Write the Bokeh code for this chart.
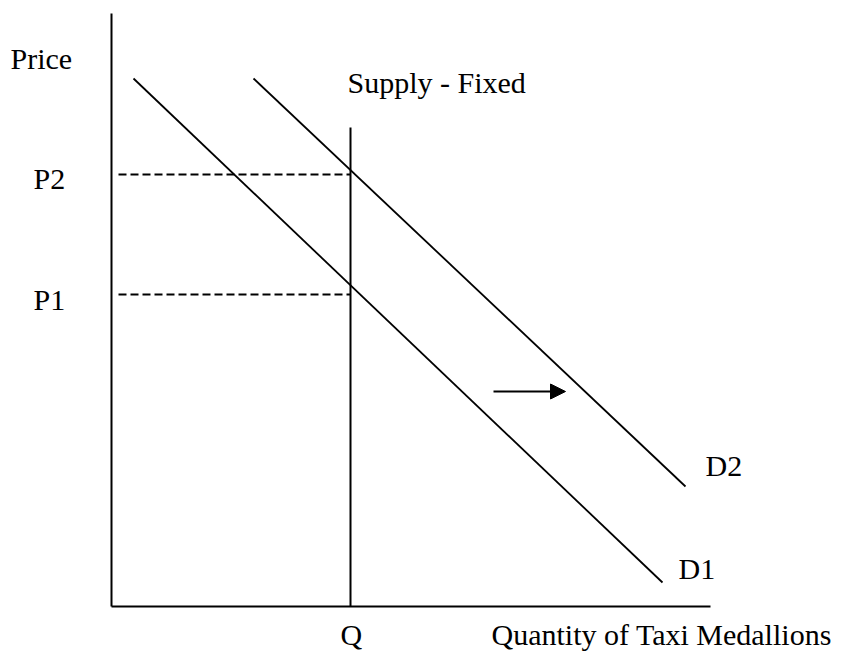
from bokeh.plotting import figure
from bokeh.models import Range1d, Arrow, NormalHead, ColumnDataSource
from bokeh.core.properties import value
from bokeh.embed import file_html
from bokeh.resources import INLINE

# Diagram values (quantity units on x, price units on y; origin at axis corner)
axis_top = 593          # height of the price axis
axis_right = 599        # length of the quantity axis
Q = 239                 # fixed supply quantity
supply_top = 479
P1 = 312
P2 = 432
dash_start = 7
D1_x = [22, 551]
D1_y = [528, 24]
D2_x = [142, 574]
D2_y = [528, 120]
shift_x = [382, 454]
shift_y = 215

labels = ["Price", "P2", "P1", "Supply - Fixed", "D2", "D1", "Q", "Quantity of Taxi Medallions"]
label_x = [-101, -78, -78, 236, 594, 567, 229, 380]
label_y = [548, 428, 307, 524, 141, 38, -28, -28]

p = figure(width=857, height=654, output_backend="svg", toolbar_location=None,
           x_range=Range1d(-111, 746), y_range=Range1d(-48, 606), min_border=0)
p.axis.visible = False
p.grid.visible = False
p.outline_line_color = None

# axes
p.line([0, 0], [0, axis_top], line_color="black", line_width=2)
p.line([0, axis_right], [0, 0], line_color="black", line_width=2)
# supply
p.line([Q, Q], [0, supply_top], line_color="black", line_width=2)
# demand curves
p.line(D1_x, D1_y, line_color="black", line_width=1.8)
p.line(D2_x, D2_y, line_color="black", line_width=1.8)
# price guides
p.line([dash_start, Q], [P2, P2], line_color="black", line_width=1.8, line_dash="8 4")
p.line([dash_start, Q], [P1, P1], line_color="black", line_width=1.8, line_dash="8 4")
# shift arrow
p.add_layout(Arrow(end=NormalHead(size=15, fill_color="black", line_color="black"),
                   x_start=shift_x[0], y_start=shift_y, x_end=shift_x[1], y_end=shift_y,
                   line_color="black", line_width=2))

src = ColumnDataSource(dict(x=label_x, y=label_y, t=labels))
p.text(x="x", y="y", text="t", source=src, text_font=value("Liberation Serif"),
       text_font_size="30px", text_color="black", text_align="left",
       text_baseline="alphabetic")

open("out.html", "w").write(file_html(p, INLINE))
